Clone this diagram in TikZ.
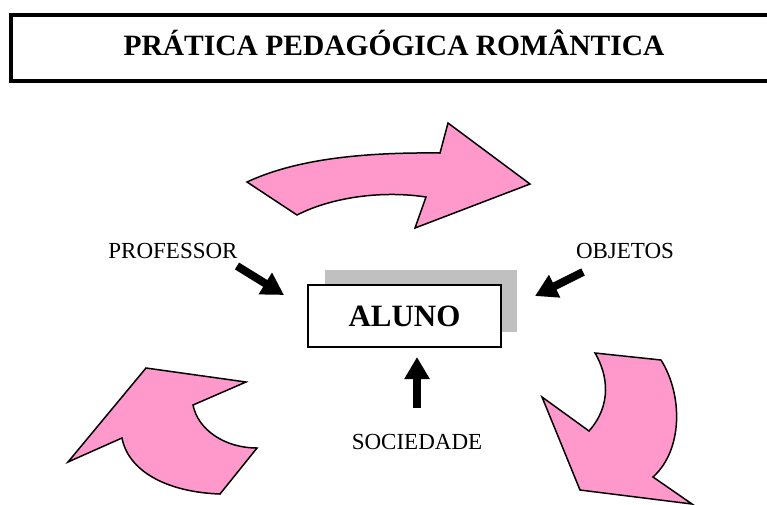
\documentclass[tikz,border=0pt]{standalone}
\usepackage{fontspec}
\setmainfont{Liberation Serif}
\usetikzlibrary{arrows.meta}
\definecolor{pinkfill}{HTML}{FF99CC}
\definecolor{shadowgray}{HTML}{C0C0C0}

\begin{document}
\begin{tikzpicture}[x=1pt,y=-1pt,
    cyclearrow/.style={fill=pinkfill,draw=black,line width=1.5pt,line join=miter},
    push/.style={line width=8pt,-{Triangle[length=22pt,width=24pt]}},
    agent/.style={font=\fontsize{23}{24}\selectfont,anchor=base}]
            \clip (0,0) rectangle (767,504);

            % title
            \draw[line width=4pt] (11,15) rectangle (790,81);
            \node[font=\bfseries\fontsize{29.5}{30}\selectfont,anchor=base] (title) at (394,55) {PRÁTICA PEDAGÓGICA ROMÂNTICA};

            % pupil in the middle
            \fill[shadowgray] (325,270) rectangle (517,332);
            \node[draw,line width=2pt,fill=white,minimum width=193pt,minimum height=62pt,
                  font=\bfseries\fontsize{31}{32}\selectfont] (aluno) at (404.5,316) {ALUNO};

            \node[agent] (prof) at (173,258) {PROFESSOR};
            \node[agent] (obj)  at (625,258) {OBJETOS};
            \node[agent] (soc)  at (417,449) {SOCIEDADE};

            \coordinate (prof-tail) at (237,266);
            \coordinate (prof-tip)  at (284,295);
            \coordinate (obj-tail)  at (583,272);
            \coordinate (obj-tip)   at (535,296);
            \coordinate (soc-tail)  at (417,408);
            \coordinate (soc-tip)   at (417,357);

            \draw[push] (prof-tail) -- (prof-tip);
            \draw[push] (obj-tail) -- (obj-tip);
            \draw[push] (soc-tail) -- (soc-tip);

            % the cycle
            \draw[cyclearrow] (247,182) .. controls (290,162) and (350,152) .. (440,153)
                -- (448,123) -- (530,184) -- (415,228) -- (426,197)
                .. controls (380,190) and (330,198) .. (297,215) -- cycle;
            \draw[cyclearrow] (661,360) .. controls (683,395) and (683,450) .. (653,477)
                -- (692,504) -- (580,490) -- (542,397) -- (589,431)
                .. controls (612,405) and (608,375) .. (595,353) -- cycle;
            \draw[cyclearrow] (193,405) .. controls (198,430) and (225,448) .. (257,448)
                -- (220,494) .. controls (165,492) and (128,470) .. (122,438)
                -- (68,462) -- (146,368) -- (246,382) -- cycle;
\end{tikzpicture}
\end{document}
